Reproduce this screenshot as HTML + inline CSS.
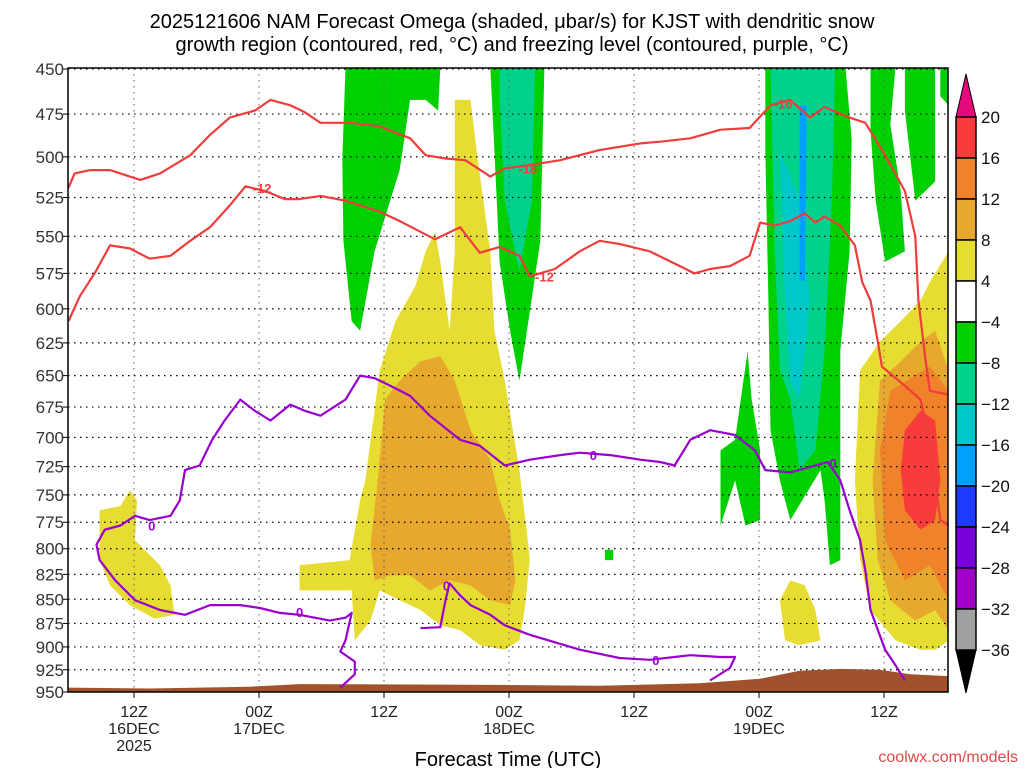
<!DOCTYPE html>
<html><head><meta charset="utf-8">
<style>
html,body{margin:0;padding:0;background:#fff;}
svg{display:block;font-family:"Liberation Sans",sans-serif;}
</style></head>
<body>
<svg id="chart" width="1024" height="768" viewBox="0 0 1024 768">
  <text x="512" y="28" font-size="20" text-anchor="middle">2025121606 NAM Forecast Omega (shaded, μbar/s) for KJST with dendritic snow</text>
  <text x="512" y="51" font-size="20" text-anchor="middle">growth region (contoured, red, °C) and freezing level (contoured, purple, °C)</text>
  <g id="plot"></g>
  <g id="axes"></g>
  <g id="cbar"></g>
  <text x="508" y="766" font-size="20" text-anchor="middle">Forecast Time (UTC)</text>
  <text x="1018" y="762" font-size="16" text-anchor="end" fill="#e04848">coolwx.com/models</text>
</svg>
<script>
// ---- data ----
const pressureTicks = [450,475,500,525,550,575,600,625,650,675,700,725,750,775,800,825,850,875,900,925,950];
const timeTickHours = [6,18,30,42,54,66,78];
const timeTickLabels = [["12Z","16DEC","2025"],["00Z","17DEC"],["12Z"],["00Z","18DEC"],["12Z"],["00Z","19DEC"],["12Z"]];
const cbarLabels = ["20","16","12","8","4","-4","-8","-12","-16","-20","-24","-28","-32","-36"];
const cbarColors = ["#f83c3c","#f0822a","#e6a82d","#e6dc32","#ffffff","#00d000","#00d28c","#00c8c8","#00a0ff","#1e3cff","#7800dc","#a000c8","#a0a0a0"];

// shaded regions: [hour, hPa]
const greenA = [[26.3,449],[35.4,449],[35.2,473],[34.0,467],[32.5,467],[31.5,508],[29.1,560],[27.7,616],[26.9,609],[26.1,553],[26.0,502]];
const greenB = [[40.2,449],[45.4,449],[45.0,553],[44.0,602],[43.0,654],[42.1,616],[41.1,567],[40.6,496]];
const tealB = [[41.1,449],[44.5,449],[44.2,527],[43.0,574],[41.6,527],[41.1,467]];
const greenC = [[66.6,449],[74.3,449],[74.9,490],[74.7,560],[73.8,631],[73.8,811],[72.8,816],[72.3,755],[71.9,728],[69.0,773],[68.0,737],[67.1,694],[66.9,594],[66.6,496]];
const greenC2 = [[62.3,711],[63.7,702],[64.9,631],[65.3,669],[66.1,711],[66.1,773],[64.7,778],[63.7,737],[62.3,778]];
const tealC = [[67.1,449],[73.3,449],[73.0,527],[72.3,631],[71.4,711],[69.9,728],[69.0,669],[68.0,646],[67.5,560]];
const cyanC = [[68.0,496],[69.9,527],[70.9,594],[69.9,669],[69.0,654],[68.5,594]];
const blueC = [[69.9,470],[70.6,470],[70.4,580],[69.9,580]];
const greenD = [[76.7,449],[79.1,449],[78.6,481],[79.6,521],[80.0,560],[78.1,567],[77.2,527],[76.7,484]];
const greenD2 = [[80.0,449],[82.9,449],[82.9,515],[81.0,527],[80.0,473]];
const greenD3 = [[83.4,449],[84.2,449],[84.2,470],[83.4,465]];
const greenSq = [[51.2,801],[52.0,801],[52.0,811],[51.2,811]];
const yellowMain = [[36.8,467],[38.3,467],[39.0,502],[40.2,560],[40.6,616],[41.6,654],[43.0,728],[43.8,792],[44.0,811],[43.5,861],[43.0,893],[41.6,903],[39.2,898],[37.3,882],[35.4,877],[33.5,861],[31.5,851],[29.6,841],[28.7,872],[27.2,893],[26.9,841],[24.8,841],[21.9,841],[21.9,816],[26.7,811],[27.7,755],[28.2,737],[29.6,646],[31.1,609],[33.0,584],[34.0,560],[34.9,547],[35.4,567],[36.3,616],[36.8,560]];
const goldMain = [[31.5,654],[33.5,639],[35.4,635],[36.8,654],[38.3,694],[40.2,719],[41.1,755],[42.1,782],[42.6,831],[42.1,856],[40.2,851],[38.3,836],[36.3,831],[34.4,841],[32.5,826],[30.6,826],[29.1,831],[28.7,796],[29.4,737],[30.1,669]];
const yellowLeft = [[5.6,746],[6.3,755],[6.1,792],[8.5,816],[9.5,836],[9.9,866],[8.0,870],[5.6,856],[3.7,836],[2.7,811],[2.7,764],[4.7,760]];
const yellowMid = [[69.0,831],[70.4,836],[71.4,861],[71.9,893],[69.9,898],[68.5,893],[68.0,851]];
const yellowRight = [[75.7,646],[77.6,624],[79.6,609],[81.5,594],[82.4,581],[84.2,560],[84.2,893],[82.9,903],[81.5,903],[79.1,893],[76.7,861],[75.7,811],[75.2,737]];
const goldRight = [[77.6,654],[79.6,639],[81.5,624],[82.9,616],[84.2,646],[84.2,882],[82.9,861],[81.0,872],[78.6,851],[77.4,811],[76.9,737]];
const orangeRight = [[78.6,662],[82.4,643],[84.2,662],[84.2,851],[82.4,816],[80.0,831],[78.1,792],[77.6,711]];
const redRight = [[80.0,694],[81.5,678],[82.9,686],[83.4,737],[82.9,773],[81.5,782],[80.0,764],[79.6,728]];
const terrain = [[-0.4,945],[7.5,946],[17.1,944],[21.9,941],[41.1,942],[50.7,943],[60.3,940],[66.1,935],[69.9,926],[73.8,924],[77.6,925],[80.5,930],[84.2,932],[84.2,951],[-0.4,951]];

// contours
const dgzMinus18 = [[-0.3,519],[0.3,510],[1.8,508],[3.7,508],[6.6,514],[8.5,510],[11.4,499],[13.3,487],[15.2,477],[17.6,473],[19.1,467],[21.0,470],[22.4,474],[23.9,480],[26.7,480],[29.6,482],[32.5,489],[34.0,499],[35.9,501],[37.8,502],[40.2,512],[41.6,507],[44.0,505],[46.9,502],[50.7,496],[54.6,492],[56.5,491],[59.4,489],[62.3,484],[65.1,483],[67.1,470],[69.0,467],[70.9,477],[72.3,471],[74.7,477],[76.2,480],[78.1,499],[80.0,521],[81.0,550],[81.3,594],[82.0,639],[82.4,662],[84.2,665]];
const dgzMinus12 = [[-0.3,609],[0.8,591],[2.3,574],[3.7,556],[5.6,558],[7.5,565],[9.5,563],[11.4,553],[13.3,544],[15.2,530],[16.7,518],[18.6,521],[20.5,526],[21.9,526],[23.9,524],[26.3,527],[29.6,534],[31.5,540],[33.5,547],[34.9,552],[37.3,544],[39.2,561],[41.1,557],[43.0,563],[44.0,577],[46.4,572],[48.8,560],[50.7,553],[52.6,555],[55.5,560],[58.4,570],[59.8,575],[61.3,572],[63.2,570],[65.1,563],[66.1,541],[67.5,543],[69.0,540],[70.4,535],[71.4,541],[72.3,537],[73.8,543],[75.2,556],[75.9,581],[76.7,594],[77.4,624],[77.8,643],[80.0,658],[81.5,669],[82.4,702],[82.9,737],[83.4,773],[84.2,778]];
const freezeMain = [[25.8,945],[27.2,930],[27.2,916],[25.8,905],[26.3,893],[26.9,864],[26.3,869],[24.8,872],[21.9,866],[20.0,864],[18.1,859],[16.2,856],[13.3,856],[10.9,866],[8.5,861],[6.1,851],[4.2,831],[2.7,811],[2.4,796],[3.2,782],[4.7,778],[6.1,769],[7.5,773],[9.5,769],[10.4,755],[10.9,728],[12.3,724],[13.5,702],[14.7,686],[16.2,669],[17.6,678],[19.1,686],[21.0,673],[22.4,678],[23.9,682],[26.3,669],[27.7,650],[29.1,652],[30.6,658],[32.5,666],[34.4,682],[37.3,702],[39.2,707],[41.6,724],[44.0,719],[46.9,715],[48.8,713],[51.7,715],[54.6,719],[56.5,721],[57.9,724],[59.4,702],[61.3,694],[63.7,698],[65.6,711],[66.6,728],[69.0,730],[71.4,724],[72.6,721],[73.8,737],[74.7,764],[75.7,792],[76.2,821],[76.7,861],[78.1,903],[79.1,920],[80.0,937]];
const freezeLow = [[33.5,880],[35.4,879],[35.9,851],[36.3,834],[37.3,846],[38.3,856],[40.2,866],[41.6,877],[44.0,887],[48.8,903],[52.6,912],[55.5,914],[59.4,909],[62.3,911],[63.7,911],[63.2,923],[61.3,937]];
const contourLabels = [["-18",43.8,507,"#f03c3c"],["-18",68.3,469,"#f03c3c"],["-12",18.3,519,"#f03c3c"],["-12",45.4,577,"#f03c3c"],["0",7.7,778,"#9a00d0"],["0",21.9,863,"#9a00d0"],["0",50.1,715,"#9a00d0"],["0",56.1,914,"#9a00d0"],["0",73.1,722,"#9a00d0"],["0",36.0,836,"#9a00d0"]];

// ---- axis functions ----
const X0=68, X1=948, Y0=68, Y1=692;
const H0=71.5, HS=10.417;
function xs(h){return H0+h*HS;}
const LP0=Math.log(450), LP1=Math.log(950);
function ys(p){return 69+(Math.log(p)-LP0)/(LP1-LP0)*623;}
const NS="http://www.w3.org/2000/svg";
function mk(tag,attrs,parent){const e=document.createElementNS(NS,tag);for(const k in attrs)e.setAttribute(k,attrs[k]);parent.appendChild(e);return e;}
function pts(arr){return arr.map(d=>xs(d[0]).toFixed(1)+","+ys(d[1]).toFixed(1)).join(" ");}

const svg=document.getElementById('chart');
const defs=mk('defs',{},svg);
const cp=mk('clipPath',{id:'clip'},defs);
mk('rect',{x:X0,y:Y0,width:X1-X0,height:Y1-Y0},cp);
const plot=document.getElementById('plot');
plot.setAttribute('clip-path','url(#clip)');

const fills=[
 [yellowLeft,"#e6dc32","yellow-left"],[yellowMain,"#e6dc32","yellow-main"],[goldMain,"#e6a82d","gold-main"],
 [yellowMid,"#e6dc32","yellow-mid"],[yellowRight,"#e6dc32","yellow-right"],[goldRight,"#e6a82d","gold-right"],
 [orangeRight,"#f0822a","orange-right"],[redRight,"#f83c3c","red-right"],
 [greenA,"#00d000","green-a"],[greenB,"#00d000","green-b"],[tealB,"#00d28c","teal-b"],
 [greenC,"#00d000","green-c"],[greenC2,"#00d000","green-c2"],[tealC,"#00d28c","teal-c"],[cyanC,"#00c8c8","cyan-c"],[blueC,"#00a0ff","blue-c"],
 [greenD,"#00d000","green-d"],[greenD2,"#00d000","green-d2"],[greenD3,"#00d000","green-d3"],[greenSq,"#00d000","green-small"]
];
fills.forEach(f=>{
  const e=mk('polygon',{points:pts(f[0]),fill:f[1]},plot);
  
  
});

// grid
for(const p of pressureTicks){
  const g=mk('line',{x1:X0,x2:X1,y1:ys(p),y2:ys(p),stroke:'#000','stroke-width':1.2,'stroke-dasharray':'1.5,4.5'},plot);
  
  
}
for(const h of timeTickHours){
  const g=mk('line',{x1:xs(h),x2:xs(h),y1:Y0,y2:Y1,stroke:'#666','stroke-width':1,'stroke-dasharray':'1.5,4.5'},plot);
  
  
}

const ter=mk('polygon',{points:pts(terrain),fill:'#a0522d'},plot);



const lines=[[dgzMinus18,'#f03c3c','dgz-minus18-contour'],[dgzMinus12,'#f03c3c','dgz-minus12-contour'],[freezeMain,'#9a00d0','freezing-level-contour'],[freezeLow,'#9a00d0','freezing-level-contour-low']];
lines.forEach(l=>{
  const e=mk('polyline',{points:pts(l[0]),fill:'none',stroke:l[1],'stroke-width':2.2,'stroke-linejoin':'round'},plot);
  
  
});
contourLabels.forEach(c=>{
  const w=c[0].length*8+2;
  mk('rect',{x:xs(c[1])-w/2,y:ys(c[2])-7,width:w,height:14,fill:'#fff','fill-opacity':0},plot);
  const t=mk('text',{x:xs(c[1]),y:ys(c[2])+5,'font-size':13,'font-weight':'bold','text-anchor':'middle',fill:c[3]},plot);
  t.textContent=c[0];
  
  
});

// axes
const ax=document.getElementById('axes');
const fr=mk('rect',{x:X0,y:Y0,width:X1-X0,height:Y1-Y0,fill:'none',stroke:'#000','stroke-width':1.5},ax);


for(const p of pressureTicks){
  const y=ys(p);
  mk('line',{x1:X0-5,x2:X0,y1:y,y2:y,stroke:'#000'},ax);
  const t=mk('text',{x:X0-4,y:y+6,'font-size':17,'text-anchor':'end',fill:'#333'},ax);
  t.textContent=p;
  
  
}
timeTickHours.forEach((h,i)=>{
  const x=xs(h);
  mk('line',{x1:x,x2:x,y1:Y1,y2:Y1+6,stroke:'#000'},ax);
  timeTickLabels[i].forEach((s,j)=>{
    const t=mk('text',{x:x,y:Y1+25+j*17,'font-size':16,'text-anchor':'middle',fill:'#222'},ax);
    t.textContent=s;
    
    
  });
});

// colorbar
const cb=document.getElementById('cbar');
const CX=956, CW=20, CT=117, CS=41;
const tri=mk('polygon',{points:`${CX},${CT} ${CX+CW},${CT} ${CX+CW/2},${CT-43}`,fill:'#e8087e',stroke:'#000'},cb);


cbarColors.forEach((c,i)=>{
  const r=mk('rect',{x:CX,y:CT+i*CS,width:CW,height:CS,fill:c,stroke:'#000','stroke-width':1.5},cb);
  
  
});
const yb=CT+cbarColors.length*CS;
const tri2=mk('polygon',{points:`${CX},${yb} ${CX+CW},${yb} ${CX+CW/2},${yb+43}`,fill:'#000',stroke:'#000'},cb);


cbarLabels.forEach((s,i)=>{
  const t=mk('text',{x:CX+CW+5,y:CT+i*CS+6,'font-size':17,fill:'#111'},cb);
  t.textContent=s.replace('-','\u2212');
  
  
});
</script>
</body></html>
